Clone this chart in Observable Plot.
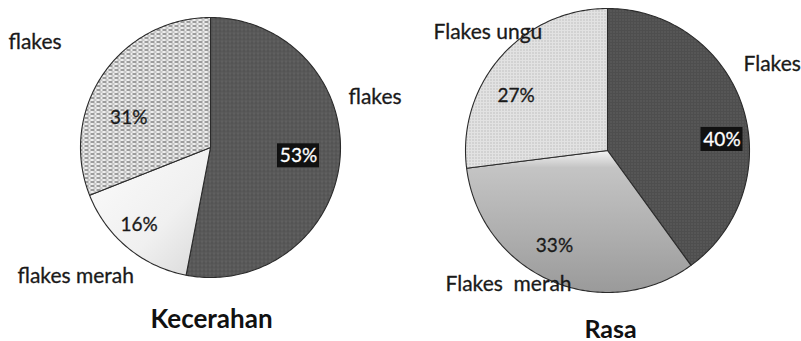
<!DOCTYPE html>
<html>
<head>
<meta charset="utf-8">
<script src="https://cdn.jsdelivr.net/npm/d3@7"></script>
<script src="https://cdn.jsdelivr.net/npm/@observablehq/plot@0.6"></script>
<style>
  html, body { margin: 0; padding: 0; background: #fff; }
  svg text { white-space: pre; }
</style>
</head>
<body>
<div id="chart"></div>
<script>
// Panel titles
const titles = ["Kecerahan", "Rasa"];

// Kecerahan: slices clockwise from 12 o'clock
const kecerahanCategories = ["flakes", "flakes merah", "flakes"];
const kecerahanValues = [53, 16, 31];

// Rasa: slices clockwise from 12 o'clock
const rasaCategories = ["Flakes", "Flakes  merah", "Flakes ungu"];
const rasaValues = [40, 33, 27];

// ---- layout (pixels) ----
const W = 801, H = 341;
const pies = [
  {cx: 210, cy: 147, r: 130, titleX: 211, titleY: 327, titleSize: 26},
  {cx: 607, cy: 150, r: 142, titleX: 610, titleY: 337, titleSize: 25}
];
// category label anchors (start, baseline)
const categoryPos = [
  [[348, 103], [17, 282], [8, 48]],
  [[743, 70], [445, 290], [433, 38]]
];
// percent label placement: [radius fraction, angle nudge in degrees]
const percentPos = [
  [[0.68, 0], [0.81, 3], [0.67, -14]],
  [[0.81, 12.5], [0.77, 5.6], [0.75, -10.4]]
];
// slice fills and whether the percent sits in a black box
const sliceFills = [
  ["url(#darkGrain)", "url(#whiteShade)", "url(#dashHatch)"],
  ["url(#darkDots)", "url(#grayShade)", "url(#lightDots)"]
];
const boxed = [[true, false, false], [true, false, false]];

const panels = [
  {categories: kecerahanCategories, values: kecerahanValues},
  {categories: rasaCategories, values: rasaValues}
];

const rad = d => d * Math.PI / 180;

function buildSlices(values, pie) {
  const total = d3.sum(values);
  let acc = 0;
  return values.map(v => {
    const a0 = acc / total * 360;
    acc += v;
    const a1 = acc / total * 360;
    const n = Math.max(2, Math.ceil(a1 - a0));
    const pts = [{x: pie.cx, y: pie.cy}];
    for (let k = 0; k <= n; k++) {
      const a = rad(a0 + (a1 - a0) * k / n);
      pts.push({x: pie.cx + pie.r * Math.sin(a), y: pie.cy - pie.r * Math.cos(a)});
    }
    pts.push({x: pie.cx, y: pie.cy});
    return {value: v, pts, mid: (a0 + a1) / 2};
  });
}

const marks = [];
panels.forEach((panel, p) => {
  const pie = pies[p];
  const slices = buildSlices(panel.values, pie);

  slices.forEach((s, i) => {
    marks.push(Plot.line(s.pts, {
      x: "x", y: "y",
      fill: sliceFills[p][i],
      stroke: "#2b2b2b", strokeWidth: 1.1, strokeLinejoin: "round"
    }));
  });

  // percent labels
  const labels = slices.map((s, i) => {
    const [f, nudge] = percentPos[p][i];
    const a = rad(s.mid + nudge);
    return {
      x: pie.cx + f * pie.r * Math.sin(a),
      y: pie.cy - f * pie.r * Math.cos(a),
      text: s.value + "%",
      boxed: boxed[p][i]
    };
  });
  const boxes = labels.filter(d => d.boxed);
  marks.push(Plot.rect(boxes, {
    x1: d => d.x - 21, x2: d => d.x + 21,
    y1: d => d.y - 12, y2: d => d.y + 12,
    fill: "#111"
  }));
  marks.push(Plot.text(labels, {
    x: "x", y: "y", text: "text",
    fill: d => d.boxed ? "#ffffff" : "#1a1a1a",
    stroke: d => d.boxed ? "#ffffff" : "#1a1a1a",
    strokeWidth: 0.3, paintOrder: "fill",
    fontSize: 19, textAnchor: "middle", lineAnchor: "middle"
  }));

  // category labels
  const cats = panel.categories.map((c, i) => ({x: categoryPos[p][i][0], y: categoryPos[p][i][1], text: c}));
  marks.push(Plot.text(cats, {
    x: "x", y: "y", text: "text", fill: "#1a1a1a",
    stroke: "#1a1a1a", strokeWidth: 0.3, paintOrder: "fill",
    fontSize: 21, textAnchor: "start", lineAnchor: "bottom"
  }));

  // panel title
  marks.push(Plot.text([titles[p]], {
    x: () => pie.titleX, y: () => pie.titleY, text: d => d,
    fontSize: pie.titleSize, fontWeight: "bold", fill: "#111",
    textAnchor: "middle", lineAnchor: "bottom"
  }));
});

const svg = Plot.plot({
  width: W, height: H,
  margin: 0,
  x: {domain: [0, W], range: [0, W], axis: null},
  y: {domain: [0, H], range: [0, H], axis: null},
  color: {type: "identity"},
  style: {fontFamily: "Lato, 'Open Sans', sans-serif", background: "#fff", overflow: "hidden"},
  marks
});

svg.insertAdjacentHTML("afterbegin", `
<defs>
  <pattern id="darkGrain" width="4" height="4" patternUnits="userSpaceOnUse">
    <rect width="4" height="4" fill="#585858"/>
    <rect x="1" y="0" width="1" height="2" fill="#676767"/>
    <rect x="3" y="2" width="1" height="1" fill="#4a4a4a"/>
  </pattern>
  <pattern id="darkDots" width="3" height="3" patternUnits="userSpaceOnUse">
    <rect width="3" height="3" fill="#4e4e4e"/>
    <rect x="1" y="1" width="1" height="1" fill="#6e6e6e"/>
  </pattern>
  <pattern id="dashHatch" width="6" height="4" patternUnits="userSpaceOnUse">
    <rect width="6" height="4" fill="#eeeeee"/>
    <path d="M0,1.5h4" stroke="#4a4a4a" stroke-width="1"/>
    <path d="M3,3.5h3" stroke="#8a8a8a" stroke-width="0.8"/>
  </pattern>
  <pattern id="lightDots" width="3" height="3" patternUnits="userSpaceOnUse">
    <rect width="3" height="3" fill="#e2e2e2"/>
    <rect x="1" y="1" width="1" height="1" fill="#a0a0a0"/>
  </pattern>
  <linearGradient id="whiteShade" x1="0" y1="0" x2="1" y2="1">
    <stop offset="0" stop-color="#fbfbfb"/>
    <stop offset="0.6" stop-color="#f0f0f0"/>
    <stop offset="1" stop-color="#d8d8d8"/>
  </linearGradient>
  <linearGradient id="grayShade" x1="0" y1="0" x2="0" y2="1">
    <stop offset="0" stop-color="#f4f4f4"/>
    <stop offset="0.12" stop-color="#c4c4c4"/>
    <stop offset="0.6" stop-color="#aeaeae"/>
    <stop offset="1" stop-color="#9a9a9a"/>
  </linearGradient>
</defs>`);

document.getElementById("chart").appendChild(svg);
</script>
</body>
</html>
